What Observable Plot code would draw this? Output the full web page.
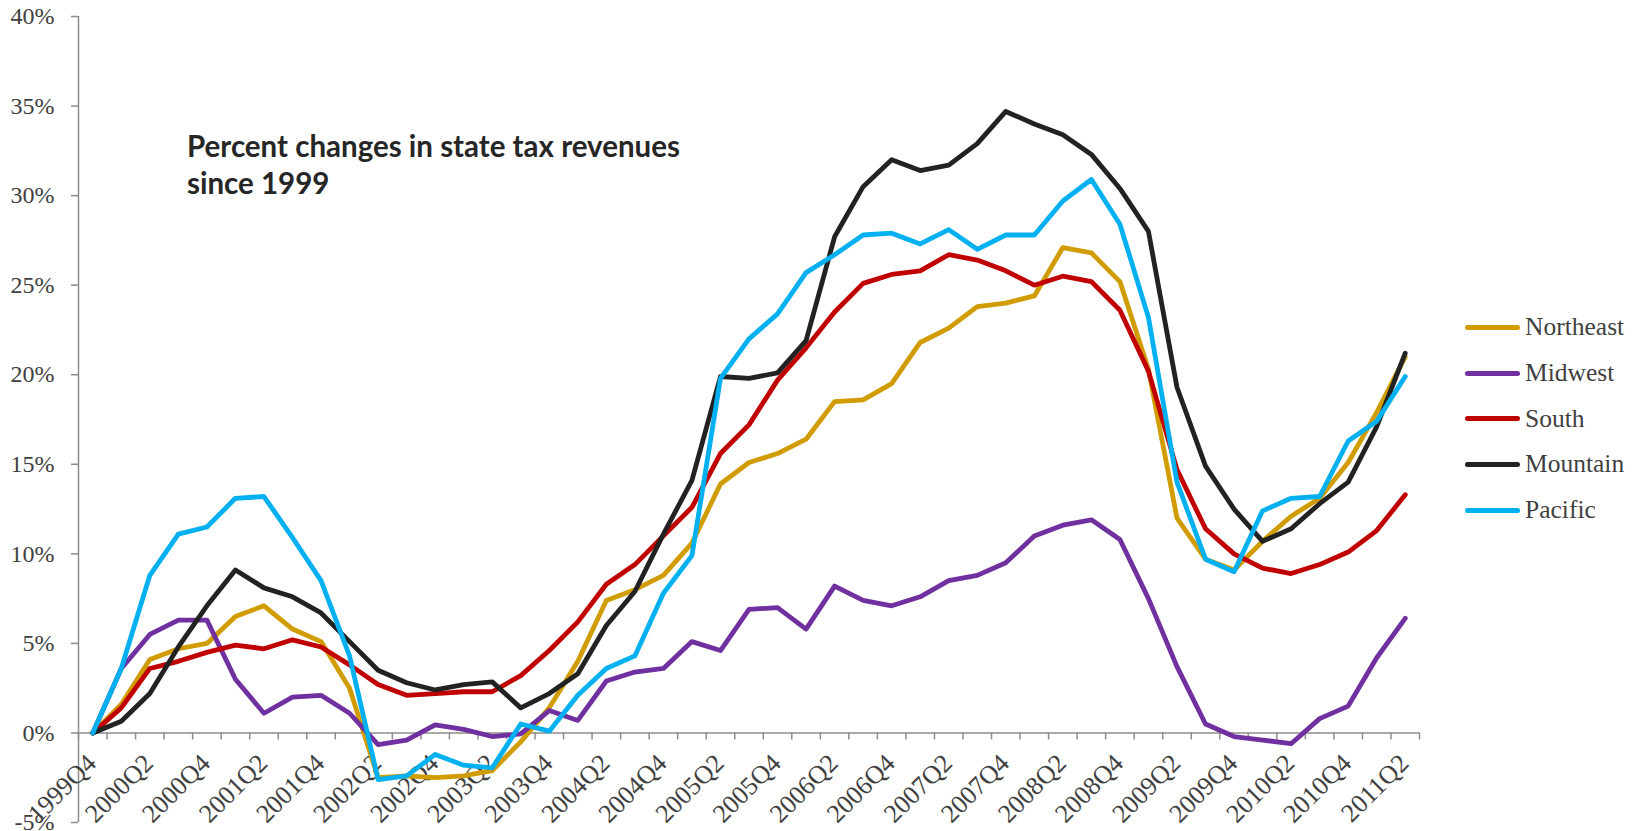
<!DOCTYPE html>
<html><head><meta charset="utf-8">
<script src="https://cdn.jsdelivr.net/npm/d3@7"></script>
<script src="https://cdn.jsdelivr.net/npm/@observablehq/plot@0.6"></script>
<style>
body{margin:0;background:#fff;}
#wrap{position:relative;width:1646px;height:831px;overflow:hidden;}
#title{position:absolute;left:187px;top:127px;font-family:Lato,sans-serif;font-weight:bold;font-size:29.5px;line-height:37px;color:#262626;white-space:nowrap;}
#legend{position:absolute;left:1465px;top:304.5px;font-family:"Liberation Serif","DejaVu Serif",serif;font-size:25.5px;color:#404040;}
.row{display:flex;align-items:center;height:45.7px;}
.sw{width:55px;height:5px;border-radius:3px;margin-right:5px;}
</style></head><body>
<div id="wrap"><div id="chart"></div>
<div id="title">Percent changes in state tax revenues<br>since 1999</div>
<div id="legend"></div></div>
<script>
const quarters = ["1999Q4","2000Q1","2000Q2","2000Q3","2000Q4","2001Q1","2001Q2","2001Q3","2001Q4","2002Q1","2002Q2","2002Q3","2002Q4","2003Q1","2003Q2","2003Q3","2003Q4","2004Q1","2004Q2","2004Q3","2004Q4","2005Q1","2005Q2","2005Q3","2005Q4","2006Q1","2006Q2","2006Q3","2006Q4","2007Q1","2007Q2","2007Q3","2007Q4","2008Q1","2008Q2","2008Q3","2008Q4","2009Q1","2009Q2","2009Q3","2009Q4","2010Q1","2010Q2","2010Q3","2010Q4","2011Q1","2011Q2"];
const seriesNames = ["Northeast","Midwest","South","Mountain","Pacific"];
const seriesColors = ["#D09C00","#7030A0","#C00000","#222222","#00B0F0"];
const yTicks = [-5,0,5,10,15,20,25,30,35,40];
const northeast = [0,1.6,4.1,4.7,5.0,6.5,7.1,5.8,5.1,2.5,-2.5,-2.4,-2.5,-2.4,-2.1,-0.5,1.4,4.0,7.4,8.0,8.8,10.6,13.9,15.1,15.6,16.4,18.5,18.6,19.5,21.8,22.6,23.8,24.0,24.4,27.1,26.8,25.2,20.3,12.0,9.7,9.1,10.7,12.1,13.1,15.1,17.9,21.0];
const midwest = [0,3.6,5.5,6.3,6.3,3.0,1.1,2.0,2.1,1.1,-0.65,-0.4,0.45,0.2,-0.2,-0.05,1.25,0.7,2.9,3.4,3.6,5.1,4.6,6.9,7.0,5.8,8.2,7.4,7.1,7.6,8.5,8.8,9.5,11.0,11.6,11.9,10.8,7.5,3.7,0.5,-0.2,-0.4,-0.6,0.8,1.5,4.2,6.4];
const south = [0,1.4,3.6,4.0,4.5,4.9,4.7,5.2,4.8,3.8,2.7,2.1,2.2,2.3,2.3,3.2,4.6,6.2,8.3,9.4,11.0,12.6,15.6,17.2,19.7,21.5,23.5,25.1,25.6,25.8,26.7,26.4,25.8,25.0,25.5,25.2,23.6,20.2,14.7,11.4,10.0,9.2,8.9,9.4,10.1,11.3,13.3];
const mountain = [0,0.65,2.2,4.8,7.1,9.1,8.1,7.6,6.7,5.1,3.5,2.8,2.4,2.7,2.85,1.4,2.2,3.3,6.0,7.9,11.1,14.1,19.9,19.8,20.1,21.9,27.7,30.5,32.0,31.4,31.7,32.9,34.7,34.0,33.4,32.3,30.4,28.0,19.3,14.9,12.5,10.7,11.4,12.8,14.0,17.1,21.2];
const pacific = [0,3.6,8.8,11.1,11.5,13.1,13.2,10.9,8.5,4.3,-2.6,-2.4,-1.2,-1.8,-1.95,0.5,0.1,2.1,3.6,4.3,7.8,9.9,19.8,22.0,23.4,25.7,26.7,27.8,27.9,27.3,28.1,27.0,27.8,27.8,29.7,30.9,28.4,23.2,14.0,9.7,9.0,12.4,13.1,13.2,16.3,17.4,19.9];

const seriesValues = [northeast, midwest, south, mountain, pacific];
const rows = [];
seriesNames.forEach((name, s) => seriesValues[s].forEach((v, i) => rows.push({series: name, i, q: quarters[i], value: v})));

const W = 1646, H = 831, mT = 16, mB = 9, mL = 78, mR = 227;
const yDomain = [-5, 40];
const tickUnits = 7 * (yDomain[1] - yDomain[0]) / (H - mT - mB);
const n = quarters.length;
const bounds = quarters.map((_, i) => i - 0.5).concat([n - 0.5]);
const labelRows = quarters.map((q, i) => ({q, i})).filter(d => d.i % 2 === 0);
const axisGray = "#8c8c8c";
const serif = "'Liberation Serif', 'DejaVu Serif', serif";

const chart = Plot.plot({
  width: W, height: H,
  marginTop: mT, marginBottom: mB, marginLeft: mL, marginRight: mR,
  style: {fontFamily: serif, background: "white"},
  x: {type: "linear", domain: [-0.5, n - 0.5], axis: null},
  y: {domain: yDomain, axis: null},
  color: {domain: seriesNames, range: seriesColors},
  marks: [
    Plot.ruleX([-0.5], {stroke: axisGray, strokeWidth: 1.5}),
    Plot.axisY({ticks: yTicks, tickFormat: d => d + "%", tickSize: 7, tickPadding: 17, fontSize: 24, fontFamily: serif, color: "#404040", stroke: axisGray, strokeWidth: 1.5, label: null}),
    Plot.ruleY([0], {stroke: axisGray, strokeWidth: 1.5}),
    Plot.ruleX(bounds, {x: d => d, y1: () => 0, y2: () => -tickUnits, stroke: axisGray, strokeWidth: 1.5}),
    Plot.text(labelRows, {x: "i", y: () => 0, text: "q", rotate: -45, textAnchor: "end", lineAnchor: "middle", dx: -1, dy: 26, fontSize: 26, fontFamily: serif, fill: "#404040"}),
    Plot.line(rows, {x: "i", y: "value", z: "series", stroke: "series", strokeWidth: 4.8, strokeLinejoin: "round", strokeLinecap: "round"})
  ]
});
document.getElementById("chart").appendChild(chart);

const legend = document.getElementById("legend");
seriesNames.forEach((name, s) => {
  const r = document.createElement("div"); r.className = "row";
  const sw = document.createElement("div"); sw.className = "sw"; sw.style.background = seriesColors[s];
  const t = document.createElement("span"); t.textContent = name;
  r.appendChild(sw); r.appendChild(t); legend.appendChild(r);
});
</script></body></html>
